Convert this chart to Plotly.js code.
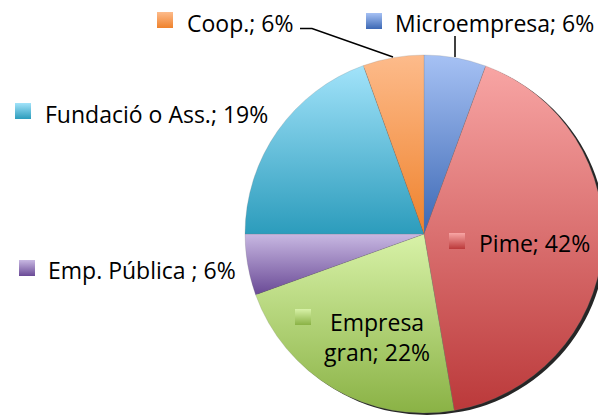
<!DOCTYPE html>
<html>
<head>
<meta charset="utf-8">
<script src="https://cdn.plot.ly/plotly-3.0.1.min.js"></script>
<style>
html, body { margin: 0; padding: 0; overflow: hidden; background: #fff; }
#chart { width: 612px; height: 418px; }
</style>
</head>
<body>
<div id="chart"></div>
<script>
// ---- data ----
const categories = ["Microempresa", "Pime", "Empresa gran", "Emp. Pública ", "Fundació o Ass.", "Coop."];
const values = [5.6, 41.7, 22.2, 5.5, 19.5, 5.5];
const percentLabels = ["6%", "42%", "22%", "6%", "19%", "6%"];

// ---- styling ----
const gradTop = ["#A6C1F4", "#F8A5A4", "#D8F2A8", "#C8B8E2", "#A2E3FA", "#FDBB8B"];
const gradBottom = ["#3C68B4", "#BB393A", "#8AB245", "#6A4A96", "#2C9CBC", "#EF822C"];
const midColor = ["#7196DA", "#DA6E6E", "#B2D476", "#9A82BE", "#66C1DE", "#F69E5C"];

const W = 612, H = 418;
const px = x => x / W;
const py = y => 1 - y / H;

// pie geometry (pixels)
const cx = 424, cy = 234, r = 179;
const shadowDx = 3, shadowDy = 2;

const shadow = {
  type: "pie", values: [1], labels: ["shadow"], sort: false,
  marker: { colors: ["rgba(0,0,0,0.85)"], line: { width: 0 } },
  textinfo: "none", hoverinfo: "skip", showlegend: false,
  domain: { x: [px(cx - r + shadowDx), px(cx + r + shadowDx)], y: [py(cy + r + shadowDy), py(cy - r + shadowDy)] }
};

const pie = {
  type: "pie", values: values, labels: categories, sort: false,
  direction: "clockwise", rotation: 0,
  marker: { colors: midColor, line: { color: "rgba(120,120,120,0.35)", width: 0.6 } },
  textinfo: "none", hoverinfo: "label+percent", showlegend: false,
  domain: { x: [px(cx - r), px(cx + r)], y: [py(cy + r), py(cy - r)] }
};

// label placement (pixels): text left/center x, center y, square box
const labelPos = [
  { x: 393, y: 23, anchor: "left", sq: [366, 13] },
  { x: 477, y: 243, anchor: "left", sq: [449, 233] },
  { x: 377, y: 337, anchor: "center", sq: [295, 309] },
  { x: 46, y: 270, anchor: "left", sq: [19, 260] },
  { x: 43, y: 114, anchor: "left", sq: [15, 103] },
  { x: 185, y: 23, anchor: "left", sq: [157, 12] }
];
const sq = 16;

const annotations = categories.map((c, i) => {
  let t = c + "; " + percentLabels[i];
  if (i === 2) t = t.replace(" ", "<br>");
  const p = labelPos[i];
  return {
    x: px(p.x), y: py(p.y), xref: "paper", yref: "paper",
    xanchor: p.anchor, yanchor: "middle", align: "center",
    text: t, showarrow: false,
    font: { family: "Open Sans, sans-serif", size: 23, color: "#000" }
  };
});

const shapes = labelPos.map((p, i) => ({
  type: "rect", xref: "paper", yref: "paper",
  x0: px(p.sq[0]), x1: px(p.sq[0] + sq), y0: py(p.sq[1] + sq), y1: py(p.sq[1]),
  fillcolor: midColor[i], line: { width: 0 }
}));
// leader lines
shapes.push({
  type: "path", xref: "paper", yref: "paper",
  path: `M ${px(300)} ${py(28.5)} L ${px(312)} ${py(28.5)} L ${px(393)} ${py(57)}`,
  line: { color: "#000", width: 1.5 }
});
shapes.push({
  type: "line", xref: "paper", yref: "paper",
  x0: px(455), x1: px(455), y0: py(36), y1: py(57),
  line: { color: "#000", width: 1.5 }
});

const layout = {
  width: W, height: H,
  margin: { l: 0, r: 0, t: 0, b: 0 },
  paper_bgcolor: "#fff", plot_bgcolor: "#fff",
  showlegend: false,
  annotations: annotations, shapes: shapes
};

Plotly.newPlot("chart", [shadow, pie], layout, { displayModeBar: false, staticPlot: true }).then(gd => {
  const svg = gd.querySelector("svg.main-svg");
  const ns = "http://www.w3.org/2000/svg";
  const defs = document.createElementNS(ns, "defs");
  gradTop.forEach((top, i) => {
    const g = document.createElementNS(ns, "linearGradient");
    g.setAttribute("id", "grad" + i);
    g.setAttribute("x1", "0"); g.setAttribute("y1", "0");
    g.setAttribute("x2", "0"); g.setAttribute("y2", "1");
    const s1 = document.createElementNS(ns, "stop");
    s1.setAttribute("offset", "0"); s1.setAttribute("stop-color", top);
    const s2 = document.createElementNS(ns, "stop");
    s2.setAttribute("offset", "1"); s2.setAttribute("stop-color", gradBottom[i]);
    g.appendChild(s1); g.appendChild(s2);
    defs.appendChild(g);
  });
  svg.insertBefore(defs, svg.firstChild);
  const traces = gd.querySelectorAll(".pielayer .trace");
  if (traces.length > 1) {
    traces[1].querySelectorAll("path.surface").forEach((p, i) => {
      p.style.fill = "url(#grad" + i + ")";
    });
  }
  const shapePaths = gd.querySelectorAll(".shapelayer path");
  shapePaths.forEach((p, i) => {
    if (i < gradTop.length) p.style.fill = "url(#grad" + i + ")";
  });
});
</script>
</body>
</html>
